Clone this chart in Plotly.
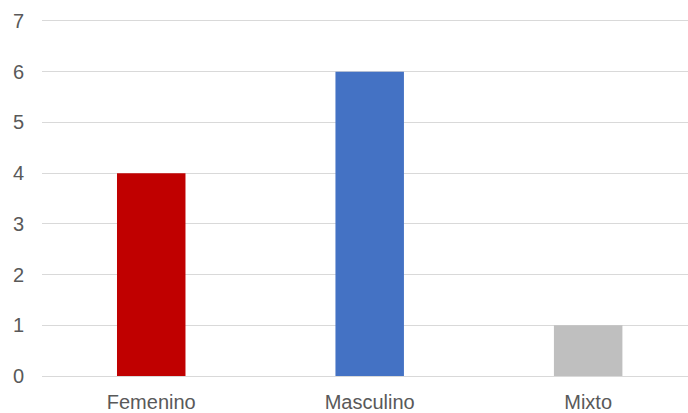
import plotly.graph_objects as go

categories = ["Femenino", "Masculino", "Mixto"]
values = [4, 6, 1]
colors = ["#C00000", "#4472C4", "#BFBFBF"]
y_ticks = [0, 1, 2, 3, 4, 5, 6, 7]

fig = go.Figure(go.Bar(
    x=categories, y=values, marker=dict(color=colors, line=dict(width=0)),
    width=0.3135,
))
fig.update_layout(
    width=688, height=413,
    margin=dict(l=42, r=0, t=21, b=31),
    plot_bgcolor="white", paper_bgcolor="white",
    font=dict(family="Liberation Sans, Arial, sans-serif", size=20, color="#595959"),
    showlegend=False,
)
fig.update_xaxes(range=[-0.5, 2.457], showgrid=False, showline=True, mirror=True,
                 linecolor="#D9D9D9", linewidth=1, ticks="", ticklabelstandoff=8)
fig.update_yaxes(range=[0, 7], tickvals=y_ticks, showgrid=True, gridcolor="#D9D9D9",
                 gridwidth=1, zeroline=False, ticks="", ticklabelstandoff=17)
fig.write_html(
    "out.html",
    config={"displayModeBar": False},
    post_script="document.body.style.margin='0';document.body.style.overflow='hidden';",
)
